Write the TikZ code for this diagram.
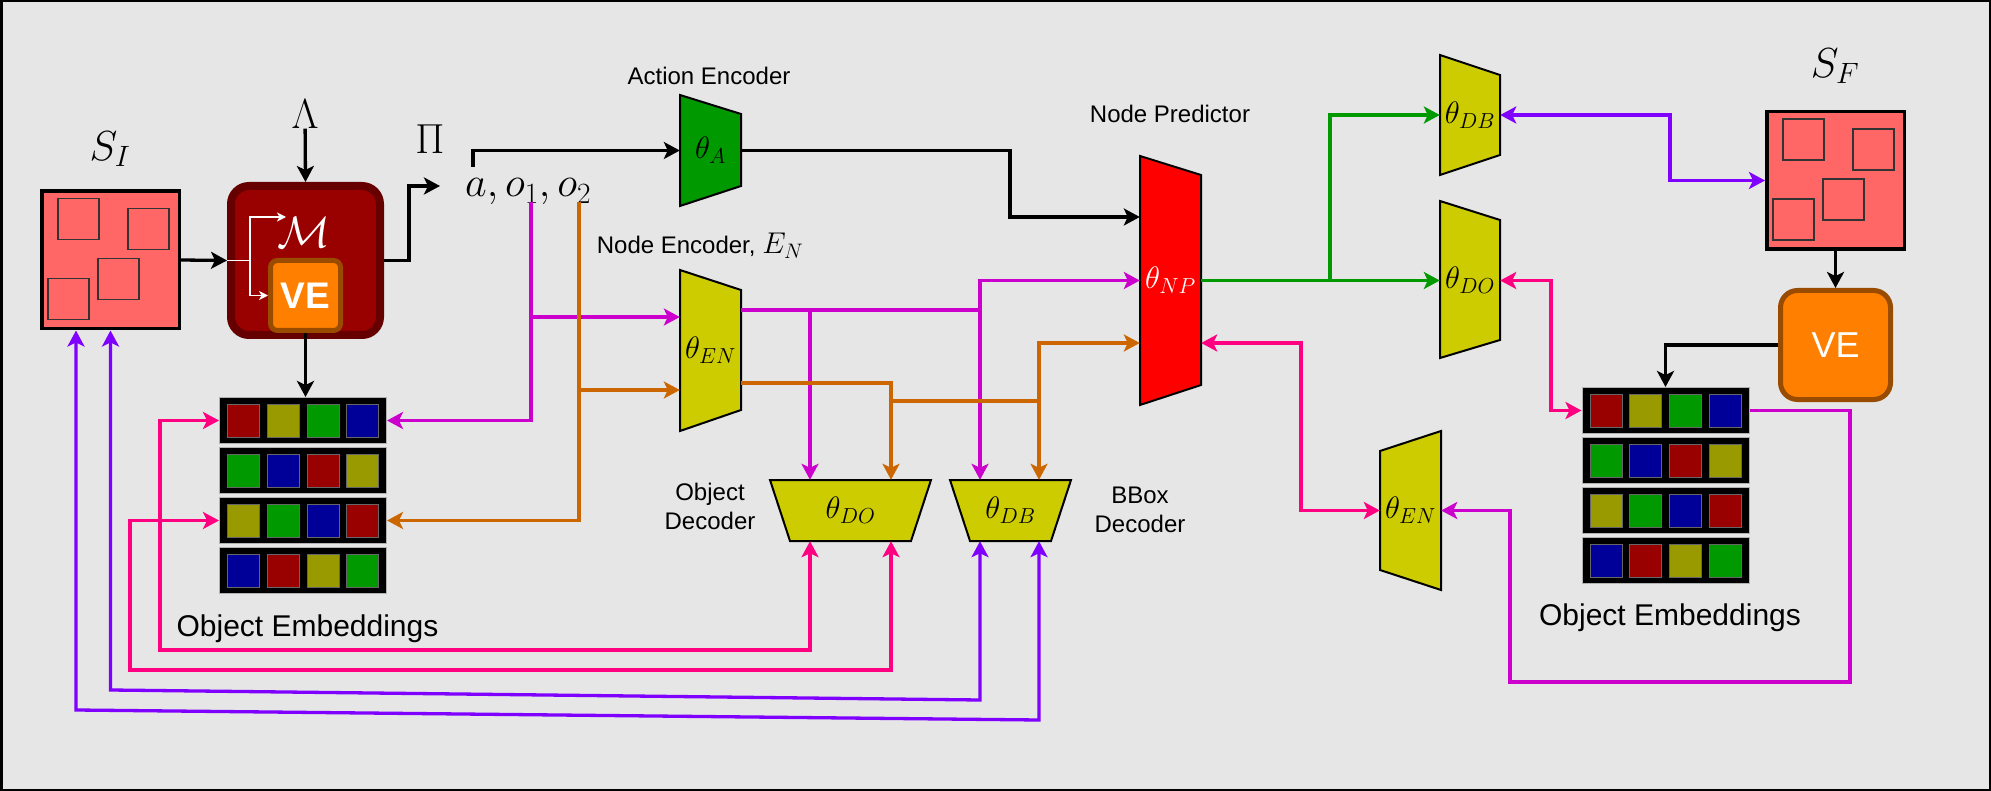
\RequirePackage{fix-cm}
\documentclass[tikz,border=0pt]{standalone}
\usepackage{fontspec}
\setmainfont{Liberation Sans}
\usepackage{amsmath,amsfonts}
\usepackage{tikz}
\usetikzlibrary{arrows.meta}

\definecolor{bggray}{HTML}{E6E6E6}
\definecolor{scenered}{HTML}{FF6666}
\definecolor{mred}{HTML}{990000}
\definecolor{mredd}{HTML}{660000}
\definecolor{veorange}{HTML}{FF8000}
\definecolor{vebrown}{HTML}{994C00}
\definecolor{encgreen}{HTML}{009900}
\definecolor{encyellow}{HTML}{CCCC00}
\definecolor{npred}{HTML}{FF0000}
\definecolor{cred}{HTML}{990000}
\definecolor{colive}{HTML}{999900}
\definecolor{cgreen}{HTML}{009900}
\definecolor{cblue}{HTML}{000099}
\definecolor{lmag}{HTML}{CC00CC}
\definecolor{lorange}{HTML}{CC6600}
\definecolor{lpink}{HTML}{FF0080}
\definecolor{lpurple}{HTML}{7F00FF}

\begin{document}
\begin{tikzpicture}[x=1pt,y=-1pt,
  >={Stealth[length=16pt,width=17pt,inset=4pt]},
  conn/.style={line width=3.3pt,->},
  trap/.style={draw=black,line width=2pt},
  blk/.style={inner sep=0pt,minimum width=61pt,font=\fontsize{31}{34}\selectfont},
  lab/.style={font=\fontsize{24}{29}\selectfont,align=center},
  big/.style={font=\fontsize{42}{48}\selectfont,inner sep=0pt},
  scene/.style={fill=scenered,draw=black,line width=3.5pt,minimum size=137.5pt,inner sep=0pt},
  obj/.style={draw=black!80,line width=1.5pt},
  embrow/.style={fill=black,draw=black!30,line width=1pt,minimum width=167pt,minimum height=46pt,inner sep=0pt},
  cell/.style={minimum width=32pt,minimum height=33pt,inner sep=0pt,draw=black!60,line width=0.6pt},
  wht/.style={white,line width=1.5pt,-{Stealth[length=9pt,width=9pt,inset=2.5pt]}}]

\useasboundingbox (0,0) rectangle (1991,791);
\draw[fill=bggray,line width=2.5pt] (1.25,1.25) rectangle (1989.75,789.75);

%initial scene
\node[big] (sIlab) at (110,149) {$S_I$};
\node[scene] (sI) at (110.5,260) {};
\foreach \dx/\dy in {18/9,88/19,58/69,8/89}
  \draw[obj] (sI.north west) ++(\dx,\dy) rectangle ++(41,41);

%model with its visual encoder
\node[fill=mred,draw=mredd,line width=8pt,rounded corners=18pt,minimum size=149pt,inner sep=0pt] (mbox) at (305.5,260.5) {};
\node[fill=veorange,draw=vebrown,line width=5pt,rounded corners=7pt,minimum size=70pt,inner sep=0pt,text=white,font=\fontsize{37}{40}\selectfont\bfseries] (veL) at (305.5,295.5) {VE};
\node[text=white,font=\fontsize{44}{48}\selectfont,inner sep=0pt] (mlab) at (304,232) {$\mathcal{M}$};
\coordinate (mtip) at (286,217);
\draw[wht] (mbox.west) -- (250,260.5) |- (mtip);
\draw[wht] (250,260.5) |- (veL.west);

%lambda, pi and the action
\node[big] (lam) at (305,114) {$\Lambda$};
\node[big] (pi) at (430,139) {$\Pi$};
\node[big,anchor=base west] (act) at (465,197) {$a,o_1,o_2$};
\coordinate (piIn) at (440,186);
\coordinate (aOut) at (473,167);
\coordinate (o1) at (531,202);
\coordinate (o2) at (579,202);

%encoders
\node[lab] (aenc) at (709,76) {Action Encoder};
\filldraw[trap,fill=encgreen] (680,95) -- (741,114) -- (741,186) -- (680,206) -- cycle;
\node[blk,minimum height=111pt] (thA) at (710.5,150.5) {$\theta_A$};
\node[lab] (nenc) at (700,246) {Node Encoder, {\fontsize{30}{30}\selectfont$E_N$}};
\filldraw[trap,fill=encyellow] (680,270) -- (741,290) -- (741,410) -- (680,431) -- cycle;
\node[blk,minimum height=161pt] (thEN) at (710.5,350.5) {$\theta_{EN}$};

%node predictor
\node[lab] (nplab) at (1170,114) {Node Predictor};
\filldraw[trap,fill=npred] (1140,156) -- (1201,175) -- (1201,385) -- (1140,405) -- cycle;
\node[blk,minimum height=249pt,text=white] (np) at (1170.5,280.5) {$\theta_{NP}$};

%decoders
\filldraw[trap,fill=encyellow] (770,480) -- (931,480) -- (911,541) -- (790,541) -- cycle;
\node[blk,minimum width=161pt,minimum height=61pt] (thDO) at (850.5,510.5) {$\theta_{DO}$};
\node[lab] (odec) at (710,506) {Object\\Decoder};
\filldraw[trap,fill=encyellow] (950,480) -- (1071,480) -- (1051,541) -- (970,541) -- cycle;
\node[blk,minimum width=121pt,minimum height=61pt] (thDB) at (1010.5,510.5) {$\theta_{DB}$};
\node[lab] (bdec) at (1140,510) {BBox\\Decoder};

%decoders and encoder on the right
\filldraw[trap,fill=encyellow] (1440,55) -- (1500,75) -- (1500,155) -- (1440,175) -- cycle;
\node[blk,minimum width=60pt,minimum height=120pt] (thDBr) at (1470,115) {$\theta_{DB}$};
\filldraw[trap,fill=encyellow] (1440,201) -- (1500,220) -- (1500,340) -- (1440,358) -- cycle;
\node[blk,minimum width=60pt,minimum height=157pt] (thDOr) at (1470,280.5) {$\theta_{DO}$};
\filldraw[trap,fill=encyellow] (1380,451) -- (1441,431) -- (1441,590) -- (1380,570) -- cycle;
\node[blk,minimum height=159pt] (thENr) at (1410.5,510.5) {$\theta_{EN}$};

%final scene
\node[big] (sFlab) at (1835,66) {$S_F$};
\node[scene] (sF) at (1835.5,180.5) {};
\foreach \dx/\dy in {18/9,88/19,58/69,8/89}
  \draw[obj] (sF.north west) ++(\dx,\dy) rectangle ++(41,41);
\node[fill=veorange,draw=vebrown,line width=5pt,rounded corners=17pt,minimum width=110pt,minimum height=109pt,inner sep=0pt,text=white,font=\fontsize{36}{40}\selectfont] (veR) at (1835.5,345) {VE};

%object embeddings
\foreach \gx/\gy/\gn in {303/420.5/embL,1665.5/410.5/embR}{
  \foreach \r/\ca/\cb/\cc/\cd in {0/cred/colive/cgreen/cblue,1/cgreen/cblue/cred/colive,2/colive/cgreen/cblue/cred,3/cblue/cred/colive/cgreen}{
    \node[embrow] (\gn\r) at (\gx,\gy+50*\r) {};
    \foreach \c [count=\i from 0] in {\ca,\cb,\cc,\cd}
      \node[cell,fill=\c] at (\gx-59.55+39.7*\i,\gy+50*\r) {};
  }
}
\node[lab,font=\fontsize{30}{36}\selectfont,anchor=base] (embLlab) at (307.5,636) {Object Embeddings};
\node[lab,font=\fontsize{30}{36}\selectfont,anchor=base] (embRlab) at (1670,625) {Object Embeddings};

%black connectors
\draw[conn] (sI.east) -- (mbox.west);
\draw[conn] (lam) -- (mbox.north);
\draw[conn] (mbox.east) -| (409,186) -- (piIn);
\draw[conn] (aOut) |- (thA.west);
\draw[conn] (thA.east) -| (1010,217) -- (np.west |- 0,217);
\draw[conn] (veL.south) -- (veL.south |- embL0.north);
\draw[conn] (sF.south) -- (veR.north);
\draw[conn] (veR.west) -| (embR0.north);

%magenta and orange: objects into the encoder and decoders
\draw[conn,lmag] (o1) |- (embL0.east);
\draw[conn,lmag] (o1 |- 0,317) -- (thEN.west |- 0,317);
\draw[conn,lmag] (thEN.east |- 0,310) -| (thDO.north -| 810,0);
\draw[conn,lmag] (810,310) -| (980,280.5) -- (np.west);
\draw[conn,lmag] (980,310) -- (thDB.north -| 980,0);
\draw[conn,lorange] (o2) |- (embL2.east);
\draw[conn,lorange] (o2 |- 0,390) -- (thEN.west |- 0,390);
\draw[conn,lorange] (thEN.east |- 0,383) -| (thDO.north -| 891,0);
\draw[conn,lorange] (891,401) -| (1039,343) -- (np.west |- 0,343);
\draw[conn,lorange] (1039,401) -- (thDB.north -| 1039,0);

%pink and purple: losses
\draw[conn,lpink,<->] (embL0.west) -| (160,650) -| (thDO.south -| 810,0);
\draw[conn,lpink,<->] (embL2.west) -| (130,670) -| (thDO.south -| 891,0);
\draw[conn,lpink,<->] (np.east |- 0,343) -| (1301,510.5) -- (thENr.west);
\draw[conn,lpink,<->] (thDOr.east) -| (1551,410.5) -- (embR0.west);
\draw[conn,lpurple,<->] (sI.south) -- (110.5,690) -- (980,700) -- (thDB.south -| 980,0);
\draw[conn,lpurple,<->] (sI.south -| 76,0) -- (76,710) -- (1039,720) -- (thDB.south -| 1039,0);
\draw[conn,lpurple,<->] (thDBr.east) -| (1670,180.5) -- (sF.west);

%green: predicted node to the decoders
\draw[conn,encgreen] (np.east) -- (thDOr.west);
\draw[conn,encgreen] (1330,280.5) |- (thDBr.west);
\draw[conn,lmag] (embR0.east) -| (1850,682) -| (1510,510.5) -- (thENr.east);

\end{tikzpicture}
\end{document}
